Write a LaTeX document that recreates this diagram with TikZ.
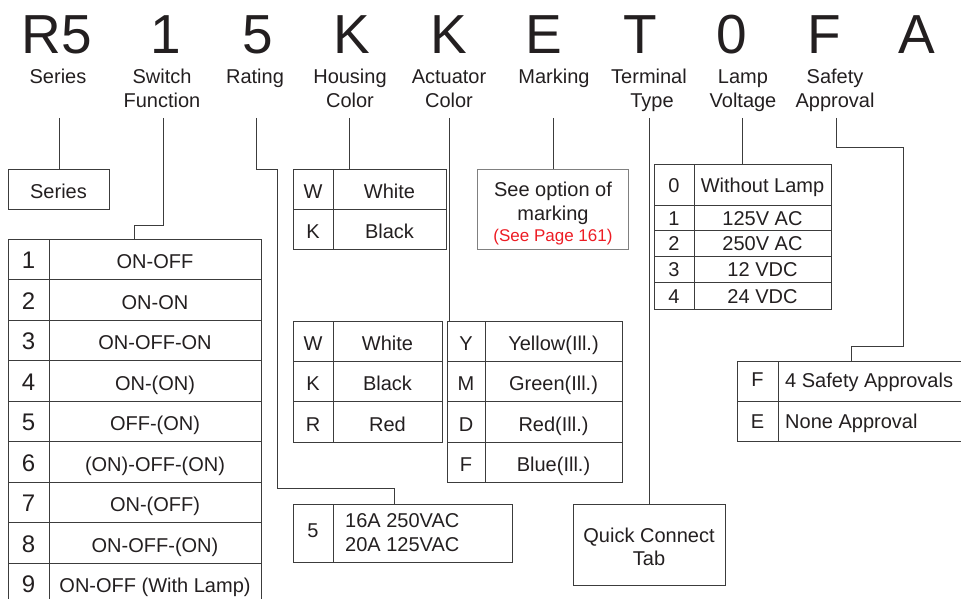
\documentclass[tikz,border=0pt]{standalone}
\usepackage{fontspec}
\setmainfont{Liberation Sans}
\definecolor{ink}{HTML}{231F20}
\definecolor{ln}{HTML}{3C3C3C}
\definecolor{redtxt}{HTML}{ED1C24}
\begin{document}
\begin{tikzpicture}[x=1pt,y=-1pt,
  every node/.style={text=ink},
  big/.style={font=\fontsize{55}{60}\selectfont, inner sep=0pt, anchor=base},
  lab/.style={font=\fontsize{20}{24}\selectfont, inner sep=0pt, anchor=base},
  txt/.style={font=\fontsize{20}{24}\selectfont, inner sep=0pt, anchor=base},
  cell/.style={draw=ln, line width=1pt, anchor=north west, inner sep=0pt, outer sep=0pt,
    font=\fontsize{20}{24}\selectfont, text height=19pt, text depth=0pt},
  conn/.style={draw=ln, line width=1pt},
]
\useasboundingbox (0,0) rectangle (961,599);
\clip (0,0) rectangle (961,599);

% big code letters
\node[big] (c1) at (57,54) {R5};
\node[big] (c2) at (166,54) {1};
\node[big] (c3) at (258,54) {5};
\node[big] (c4) at (352,54) {K};
\node[big] (c5) at (449,54) {K};
\node[big] (c6) at (544,54) {E};
\node[big] (c7) at (640,54) {T};
\node[big] (c8) at (732,54) {0};
\node[big] (c9) at (824,54) {F};
\node[big] (c10) at (917,54) {A};

% labels
\node[lab] (l1) at (58,84) {Series};
\node[lab] (l2a) at (162,84) {Switch};
\node[lab] (l2b) at (162,108) {Function};
\node[lab] (l3) at (255,84) {Rating};
\node[lab] (l4a) at (350,84) {Housing};
\node[lab] (l4b) at (350,108) {Color};
\node[lab] (l5a) at (449,84) {Actuator};
\node[lab] (l5b) at (449,108) {Color};
\node[lab] (l6) at (554,84) {Marking};
\node[lab] (l7a) at (649,84) {Terminal};
\node[lab] (l7b) at (652,108) {Type};
\node[lab] (l8a) at (743,84) {Lamp};
\node[lab] (l8b) at (743,108) {Voltage};
\node[lab] (l9a) at (835,84) {Safety};
\node[lab] (l9b) at (835,108) {Approval};

% connector start points
\coordinate (p1) at (59,118);
\coordinate (p2) at (163,118);
\coordinate (p3) at (256,118);
\coordinate (p4) at (349,118);
\coordinate (p5) at (449,118);
\coordinate (p6) at (553,118);
\coordinate (p7) at (649,118);
\coordinate (p8) at (742,118);
\coordinate (p9) at (836,118);

% Series
\node[cell, minimum width=101pt, minimum height=40pt] (series) at (8,169) {Series};
\draw[conn] (p1) -- (p1 |- series.north);

% Switch function table
\foreach \i/\t in {1/ON-OFF,2/ON-ON,3/ON-OFF-ON,4/ON-(ON),5/OFF-(ON),6/(ON)-OFF-(ON),7/ON-(OFF),8/ON-OFF-(ON),9/ON-OFF (With Lamp)}{
  \node[cell, minimum width=41pt, minimum height=40.5pt, font=\fontsize{24}{28}\selectfont] (sfn\i) at (8,{239+40.5*(\i-1)}) {\i};
  \node[cell, minimum width=212pt, minimum height=40.5pt] (sft\i) at (49,{239+40.5*(\i-1)}) {\t};
}
\coordinate (q2) at (134,225);
\draw[conn] (p2) |- (q2) -- (q2 |- sft1.north);

% Rating
\node[cell, minimum width=40pt, minimum height=58pt, text height=8pt] (rate5) at (293,504) {5};
\node[cell, minimum width=179pt, minimum height=58pt] (ratev) at (333,504) {};
\node[txt, anchor=base west] (rv1) at (345,527) {16A 250VAC};
\node[txt, anchor=base west] (rv2) at (345,551) {20A 125VAC};
\coordinate (r1) at (277,169);
\coordinate (r2) at (394,488);
\draw[conn] (p3) |- (r1) |- (r2) -- (r2 |- ratev.north);

% Housing color
\node[cell, minimum width=40pt, minimum height=40pt] (hw) at (293,169) {W};
\node[cell, minimum width=113pt, minimum height=40pt] (hwt) at (333,169) {White};
\node[cell, minimum width=40pt, minimum height=40pt] (hk) at (293,209) {K};
\node[cell, minimum width=113pt, minimum height=40pt] (hkt) at (333,209) {Black};
\draw[conn] (p4) -- (p4 |- hwt.north);

% Actuator color
\node[cell, minimum width=40pt, minimum height=40pt] (aw) at (293,321) {W};
\node[cell, minimum width=109pt, minimum height=40pt] (awt) at (333,321) {White};
\node[cell, minimum width=40pt, minimum height=40pt] (ak) at (293,361) {K};
\node[cell, minimum width=109pt, minimum height=40pt] (akt) at (333,361) {Black};
\node[cell, minimum width=40pt, minimum height=41pt] (ar) at (293,401) {R};
\node[cell, minimum width=109pt, minimum height=41pt] (art) at (333,401) {Red};

\node[cell, minimum width=38pt, minimum height=40pt] (ay) at (447,321) {Y};
\node[cell, minimum width=137pt, minimum height=40pt] (ayt) at (485,321) {Yellow(Ill.)};
\node[cell, minimum width=38pt, minimum height=40pt] (am) at (447,361) {M};
\node[cell, minimum width=137pt, minimum height=40pt] (amt) at (485,361) {Green(Ill.)};
\node[cell, minimum width=38pt, minimum height=41pt] (ad) at (447,401) {D};
\node[cell, minimum width=137pt, minimum height=41pt] (adt) at (485,401) {Red(Ill.)};
\node[cell, minimum width=38pt, minimum height=40pt] (af) at (447,442) {F};
\node[cell, minimum width=137pt, minimum height=40pt] (aft) at (485,442) {Blue(Ill.)};
\draw[conn] (p5) -- (p5 |- ay.north);

% Marking
\node[cell, draw=gray, minimum width=151pt, minimum height=80pt] (mark) at (477,169) {};
\node[txt] (m1) at (553,196) {See option of};
\node[txt] (m2) at (553,220) {marking};
\node[txt, font=\fontsize{17}{20}\selectfont, text=redtxt] (m3) at (553,241) {(See Page 161)};
\draw[conn] (p6) -- (p6 |- mark.north);

% Terminal type
\node[cell, minimum width=152pt, minimum height=81pt] (qct) at (573,504) {};
\node[txt] (qc1) at (649,542) {Quick Connect};
\node[txt] (qc2) at (649,565) {Tab};
\draw[conn] (p7) -- (p7 |- qct.north);

% Lamp voltage
\node[cell, minimum width=40pt, minimum height=41pt, text height=16.5pt] (lv0) at (654,164) {0};
\node[cell, minimum width=137pt, minimum height=41pt, text height=16.5pt] (lv0t) at (694,164) {Without Lamp};
\node[cell, minimum width=40pt, minimum height=25pt, text height=15pt] (lv1) at (654,205) {1};
\node[cell, minimum width=137pt, minimum height=25pt, text height=15pt] (lv1t) at (694,205) {125V AC};
\node[cell, minimum width=40pt, minimum height=26pt, text height=15pt] (lv2) at (654,230) {2};
\node[cell, minimum width=137pt, minimum height=26pt, text height=15pt] (lv2t) at (694,230) {250V AC};
\node[cell, minimum width=40pt, minimum height=26pt, text height=14pt] (lv3) at (654,256) {3};
\node[cell, minimum width=137pt, minimum height=26pt, text height=14pt] (lv3t) at (694,256) {12 VDC};
\node[cell, minimum width=40pt, minimum height=27pt, text height=15pt] (lv4) at (654,282) {4};
\node[cell, minimum width=137pt, minimum height=27pt, text height=15pt] (lv4t) at (694,282) {24 VDC};
\draw[conn] (p8) -- (p8 |- lv0t.north);

% Safety approval
\node[cell, minimum width=41pt, minimum height=40pt, text height=11.5pt] (sa1) at (737,361) {F};
\node[cell, minimum width=240pt, minimum height=40pt] (sa1t) at (778,361) {};
\node[cell, minimum width=41pt, minimum height=40pt, text height=14pt] (sa2) at (737,401) {E};
\node[cell, minimum width=240pt, minimum height=40pt] (sa2t) at (778,401) {};
\node[txt, anchor=base west] (st1) at (785,387) {4 Safety Approvals};
\node[txt, anchor=base west] (st2) at (785,428) {None Approval};
\coordinate (s1) at (903,148);
\coordinate (s2) at (851,346);
\draw[conn] (p9) |- (s1) |- (s2) -- (s2 |- sa1t.north);
\end{tikzpicture}
\end{document}
